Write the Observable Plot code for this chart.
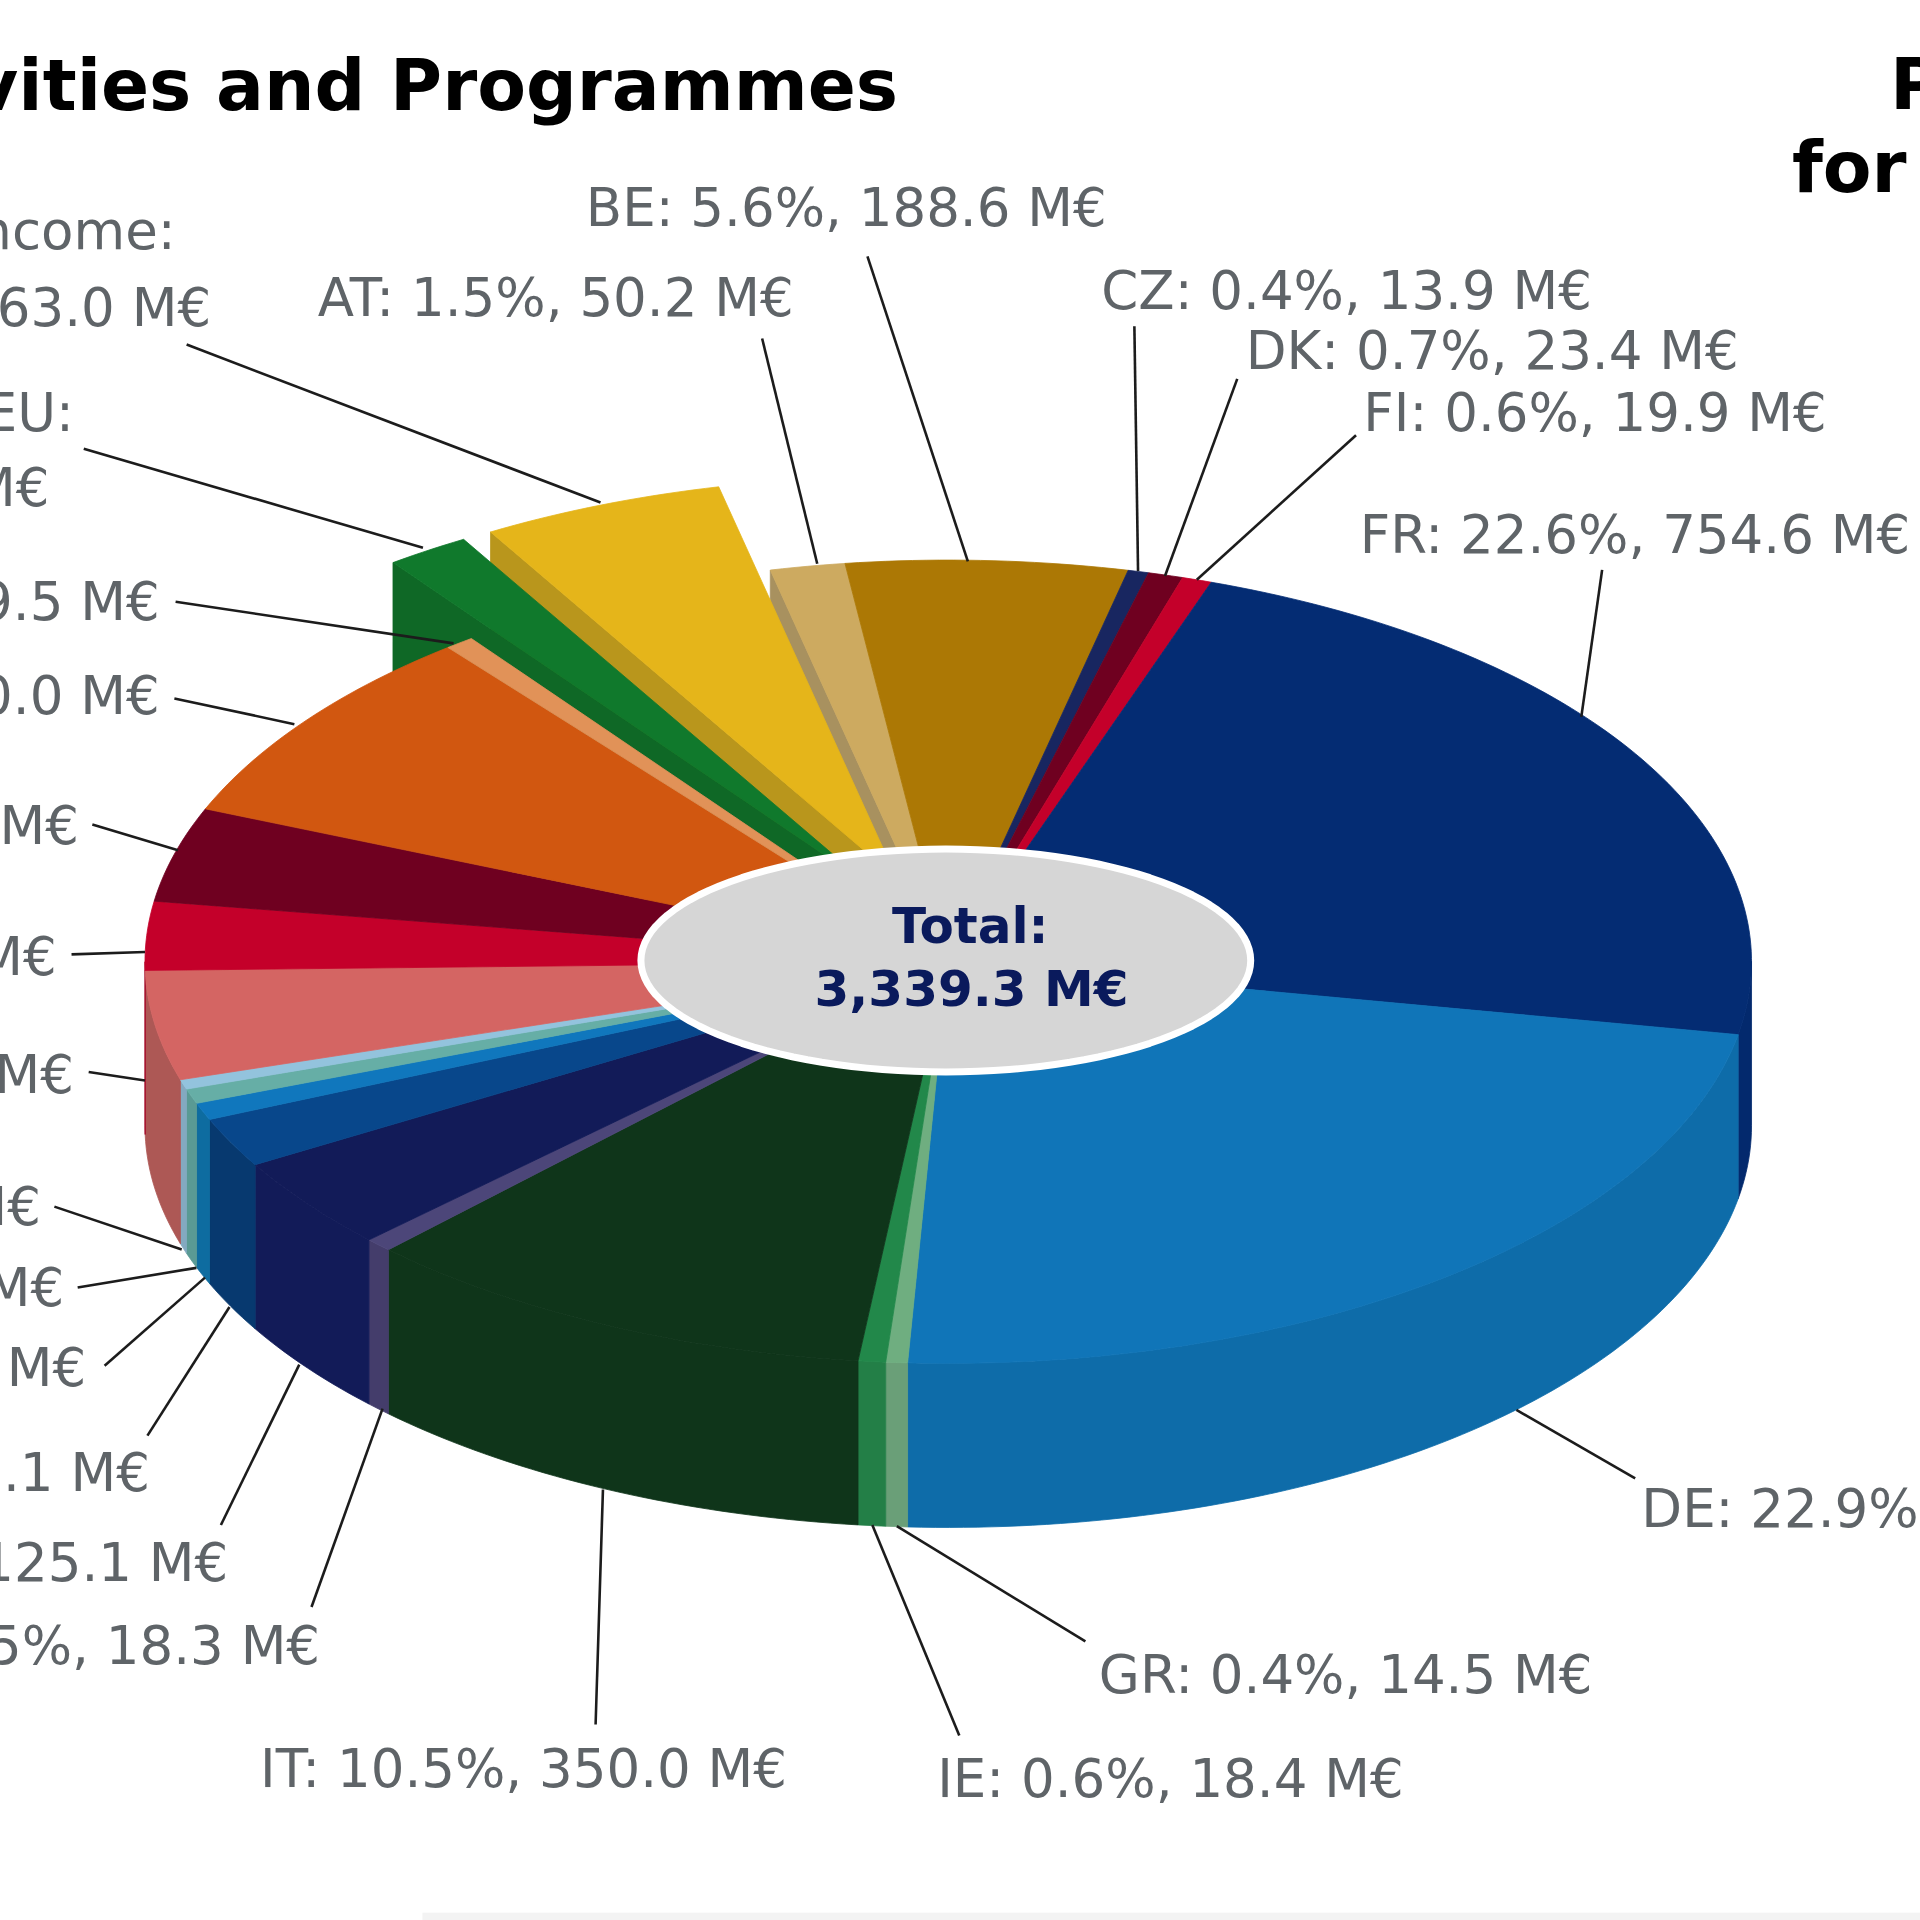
<!DOCTYPE html>
<html><head><meta charset="utf-8">
<script src="https://cdn.jsdelivr.net/npm/d3@7"></script>
<script src="https://cdn.jsdelivr.net/npm/@observablehq/plot@0.6"></script>
<style>html,body{margin:0;padding:0;background:#fff;overflow:hidden}</style>
</head><body><div id="chart"></div>
<script>
const segments = ["AT","BE","CZ","DK","FI","FR","DE","GR","IE","IT","S11","S12","S13","S14","S15","S16","S17","S18","S19","S20","S21","S22","S23"];
const valuesM = [50.2,188.6,13.9,23.4,19.9,754.6,764.7,14.5,18.4,350.0,18.3,125.1,67.1,23,20,13,147,92,127,270.0,19.5,56,163.0];
const topColors = ["#cdaa60","#ac7805","#182660","#6f0020","#c4002a","#042c73","#1075b8","#6fae80","#22884a","#0f351a","#4c4679","#121b58","#08478b","#1077bd","#66aea6","#93c3dd","#d46563","#c4002a","#6f0020","#d15710","#e19258","#10792c","#e5b51a"];
const sideColors = ["#a8915f","#8f6404","#141f50","#5c001a","#a30023","#03296d","#0e6ca9","#6a9f78","#237f47","#0f351a","#443d6b","#121b58","#07396f","#0e6ca0","#5a9a94","#84a9c0","#ad5855","#a30023","#5c001a","#ad480d","#bb7a49","#0f6826","#b9961c"];
const exploded = {S23:[-42,-68], S22:[-64,-62]};
const totalM = 3339.3;

const leaders = [[152,281,490,410],[68,366,345,447],[143,491,370,525],[142,570,240,591],[75,673,145,694],[58,779,118,777],[72,875,118,882],[44,985,148,1020],[63,1051,160,1035],[85,1115,167,1043],[120,1172,187,1067],[180,1245,244,1114],[254,1312,312,1150],[486,1408,492,1216],[783,1417,712,1245],[886,1340,732,1246],[1335,1207,1238,1151],[1308,465,1291,585],[1107,355,977,473],[1010,309,951,470],[926,266,929,466],[708,209,790,458],[622,276,667,460]];
const labelsStart = [["BE: 5.6%, 188.6 M€",478,170],["AT: 1.5%, 50.2 M€",259,244],["CZ: 0.4%, 13.9 M€",899,238],["DK: 0.7%, 23.4 M€",1017,287],["FI: 0.6%, 19.9 M€",1113,338],["FR: 22.6%, 754.6 M€",1110,437],["DE: 22.9%",1340,1233],["GR: 0.4%, 14.5 M€",897,1368],["IE: 0.6%, 18.4 M€",765,1453],["IT: 10.5%, 350.0 M€",212,1445]];
const labelsEnd = [["5%, 18.3 M€",261,1345],["125.1 M€",186,1277],["7.1 M€",122,1203],["M€",70,1118],["M€",52,1052],["M€",33,986],["M€",60,878],["M€",46,782],["M€",64,675],["0.0 M€",130,569],["9.5 M€",130,492],["M€",40,399],["EU:",60,338],["63.0 M€",172,252],["ncome:",143,189]];
const titleEnd = [["vities and Programmes",733,71]];
const titleStart = [["P",1543,70],["for",1463,138]];
const centerText = [["Total:",792,757],["3,339.3 M€",793,808]];

// pie geometry
const cx=774, cy=785, rx=656, ry=328, depth=134, holeX=772, holeY=784, holeRx=249, holeRy=91;
const startT = 257.2;
const rad = d=>d*Math.PI/180;
const arc=(t0,t1,dx,dy,dz)=>{const n=Math.max(2,Math.ceil(Math.abs(t1-t0)));return d3.range(n+1).map(i=>{const t=rad(t0+(t1-t0)*i/n);return {x:cx+dx+rx*Math.cos(t),y:cy+dy+dz+ry*Math.sin(t)};});};
let acc=startT;
const slices=segments.map((id,i)=>{const t0=acc;const t1=acc+valuesM[i]/totalM*360;acc=t1;const [dx,dy]=exploded[id]||[0,0];return {id,i,t0,t1,dx,dy};});
const poly=(points,color)=>Plot.line([...points,points[0]],{x:"x",y:"y",fill:color,stroke:color,strokeWidth:0.8,curve:"linear"});
const P=(x,y)=>({x,y});

const marks=[];
marks.push(Plot.rect([[345,1562,1568,1568]],{x1:d=>d[0],y1:d=>d[1],x2:d=>d[2],y2:d=>d[3],fill:"#f3f3f3"}));
// outer rim (front half)
for(const s of slices){
  for(const off of [0,360]){
    const a=Math.max(s.t0-off,0), b=Math.min(s.t1-off,180);
    if(b>a){ const top=arc(a,b,0,0,0), bot=arc(b,a,0,0,depth); marks.push(poly([...top,...bot],sideColors[s.i])); }
  }
}
const topFace=s=>poly([P(cx+s.dx,cy+s.dy),...arc(s.t0,s.t1,s.dx,s.dy,0)],topColors[s.i]);
const wall=s=>{const e=arc(s.t0,s.t0,s.dx,s.dy,0)[0];return poly([P(cx+s.dx,cy+s.dy),e,P(e.x,e.y+depth),P(cx+s.dx,cy+s.dy+depth)],sideColors[s.i]);};
const by=id=>slices.find(s=>s.id===id);
const order=["S23","S22"];
const rest=slices.filter(s=>!order.includes(s.id));
const backIds=["AT","BE","CZ","DK","FI","FR"];
marks.push(wall(by("AT")));
for(const s of rest) if(backIds.includes(s.id)) marks.push(topFace(s));
marks.push(wall(by("S23")), topFace(by("S23")));
marks.push(wall(by("S22")), topFace(by("S22")));
for(const s of rest) if(!backIds.includes(s.id)) marks.push(topFace(s));
// centre ellipse
const hole=d3.range(0,361,3).map(a=>P(holeX+holeRx*Math.cos(rad(a)),holeY+holeRy*Math.sin(rad(a))));
marks.push(Plot.line(hole,{x:"x",y:"y",fill:"#d6d6d6",stroke:"#fff",strokeWidth:7}));
// leaders
marks.push(Plot.link(leaders,{x1:d=>d[0],y1:d=>d[1],x2:d=>d[2],y2:d=>d[3],stroke:"#1c1c1c",strokeWidth:2.6}));
const F="DejaVu Sans";
const txt=(rows,anchor,size,weight,fill)=>Plot.text(rows,{x:d=>d[1],y:d=>d[2],text:d=>d[0],textAnchor:anchor,fontSize:size,fontWeight:weight,fill,fontFamily:F,lineAnchor:"middle"});
marks.push(txt(labelsStart,"start",53,"normal","#5f6468"));
marks.push(txt(labelsEnd,"end",53,"normal","#5f6468"));
marks.push(txt(titleEnd,"end",71,"bold","#000"));
marks.push(txt(titleStart,"start",71,"bold","#000"));
marks.push(txt(centerText,"middle",50,"bold","#0a1a5c"));

const chart=Plot.plot({width:1920,height:1920,margin:0,
  x:{domain:[0,1568],axis:null},y:{domain:[0,1568],reverse:true,axis:null},
  marks});
chart.style.display="block";
document.getElementById("chart").append(chart);
</script></body></html>
